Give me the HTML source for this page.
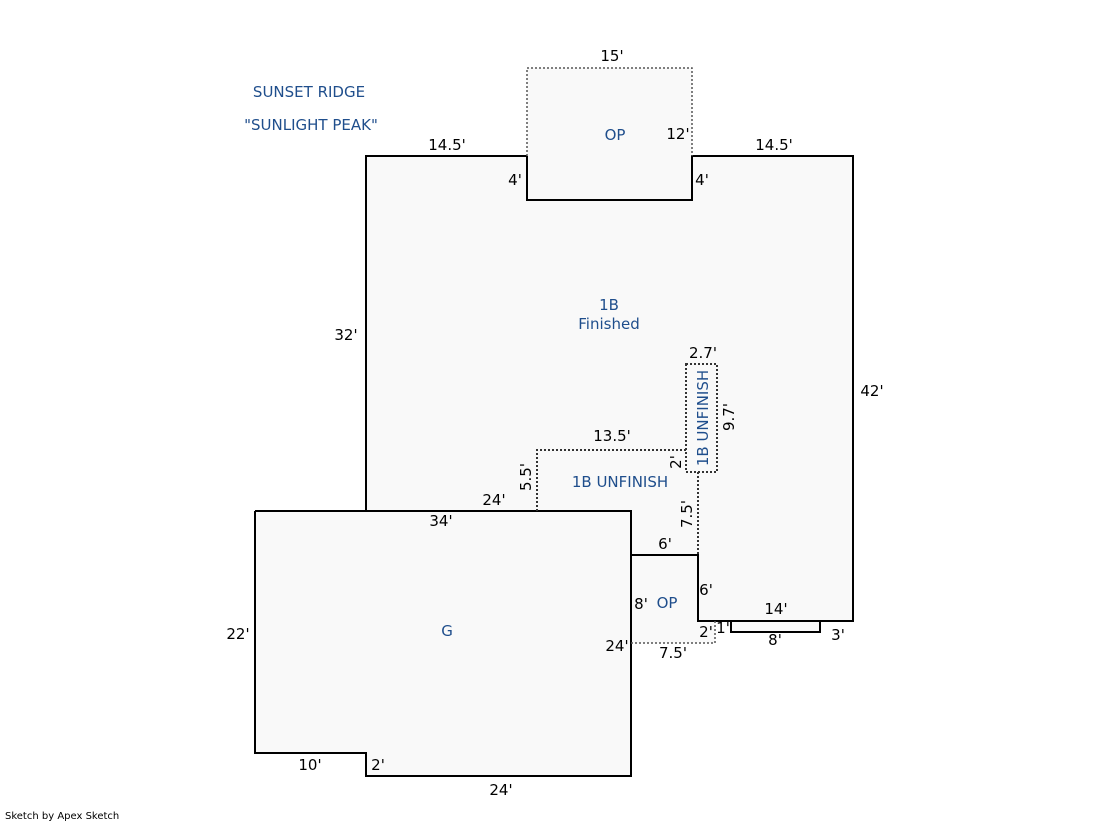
<!DOCTYPE html>
<html><head><meta charset="utf-8"><style>
html,body{margin:0;padding:0;background:#fff;}
svg{display:block;}
text{font-family:"DejaVu Sans","Liberation Sans",sans-serif;font-size:15px;fill:#000;}
.b{fill:#1f4e8c;}
</style></head><body>
<svg width="1119" height="821" viewBox="0 0 1119 821">
<g fill="#f9f9f9" stroke="none">
<rect x="527" y="68" width="165" height="132"/>
<polygon points="366,156 527,156 527,200 692,200 692,156 853,156 853,621 698,621 698,555 631,555 631,511 366,511"/>
<rect x="255" y="511" width="376" height="242"/>
<rect x="366" y="700" width="265" height="76"/>
<rect x="631" y="555" width="84" height="88"/>
<rect x="731" y="621" width="89" height="11"/>
</g>
<g fill="none" stroke="#000" stroke-width="2">
<polyline points="527,156 366,156 366,511"/>
<polyline points="527,156 527,200 692,200 692,156 853,156 853,621 698,621 698,555 631,555"/>
<polyline points="255,511 631,511 631,776 366,776 366,753 255,753 255,511"/>
<polyline points="731,621 731,632 820,632 820,621"/>
</g>
<g fill="none" stroke="#555" stroke-width="1.5" stroke-dasharray="2,2">
<polyline points="527,156 527,68 692,68 692,156"/>
<polyline points="631,643 715,643 715,621"/>
</g>
<g fill="none" stroke="#333" stroke-width="2" stroke-dasharray="2,2">
<polyline points="537,511 537,450 686,450"/>
<rect x="686" y="364" width="31" height="108"/>
<polyline points="698,472 698,555"/>
</g>
<text class="b" x="309" y="97" text-anchor="middle">SUNSET RIDGE</text>
<text class="b" x="311" y="130" text-anchor="middle">"SUNLIGHT PEAK"</text>
<text x="612" y="61" text-anchor="middle">15'</text>
<text class="b" x="615" y="140" text-anchor="middle">OP</text>
<text x="678" y="139" text-anchor="middle">12'</text>
<text x="447" y="150" text-anchor="middle">14.5'</text>
<text x="774" y="150" text-anchor="middle">14.5'</text>
<text x="515" y="185" text-anchor="middle">4'</text>
<text x="702" y="185" text-anchor="middle">4'</text>
<text class="b" x="609" y="310" text-anchor="middle">1B</text>
<text class="b" x="609" y="329" text-anchor="middle">Finished</text>
<text x="346" y="340" text-anchor="middle">32'</text>
<text x="872" y="396" text-anchor="middle">42'</text>
<text x="703" y="358" text-anchor="middle">2.7'</text>
<text class="b" x="708" y="418" text-anchor="middle" transform="rotate(-90 708 418)">1B UNFINISH</text>
<text x="734" y="417" text-anchor="middle" transform="rotate(-90 734 417)">9.7'</text>
<text x="612" y="441" text-anchor="middle">13.5'</text>
<text x="681" y="462" text-anchor="middle" transform="rotate(-90 681 462)">2'</text>
<text x="531" y="477" text-anchor="middle" transform="rotate(-90 531 477)">5.5'</text>
<text class="b" x="620" y="487" text-anchor="middle">1B UNFINISH</text>
<text x="494" y="505" text-anchor="middle">24'</text>
<text x="441" y="526" text-anchor="middle">34'</text>
<text x="692" y="514" text-anchor="middle" transform="rotate(-90 692 514)">7.5'</text>
<text x="665" y="549" text-anchor="middle">6'</text>
<text x="706" y="595" text-anchor="middle">6'</text>
<text x="641" y="609" text-anchor="middle">8'</text>
<text class="b" x="667" y="608" text-anchor="middle">OP</text>
<text x="776" y="614" text-anchor="middle">14'</text>
<text x="706" y="637" text-anchor="middle">2'</text>
<text x="723" y="633" text-anchor="middle">1'</text>
<text x="775" y="645" text-anchor="middle">8'</text>
<text x="838" y="640" text-anchor="middle">3'</text>
<text x="617" y="651" text-anchor="middle">24'</text>
<text x="673" y="658" text-anchor="middle">7.5'</text>
<text x="238" y="639" text-anchor="middle">22'</text>
<text class="b" x="447" y="636" text-anchor="middle">G</text>
<text x="310" y="770" text-anchor="middle">10'</text>
<text x="378" y="770" text-anchor="middle">2'</text>
<text x="501" y="795" text-anchor="middle">24'</text>
<text x="5" y="819" style="font-size:10px">Sketch by Apex Sketch</text>
</svg>
</body></html>
